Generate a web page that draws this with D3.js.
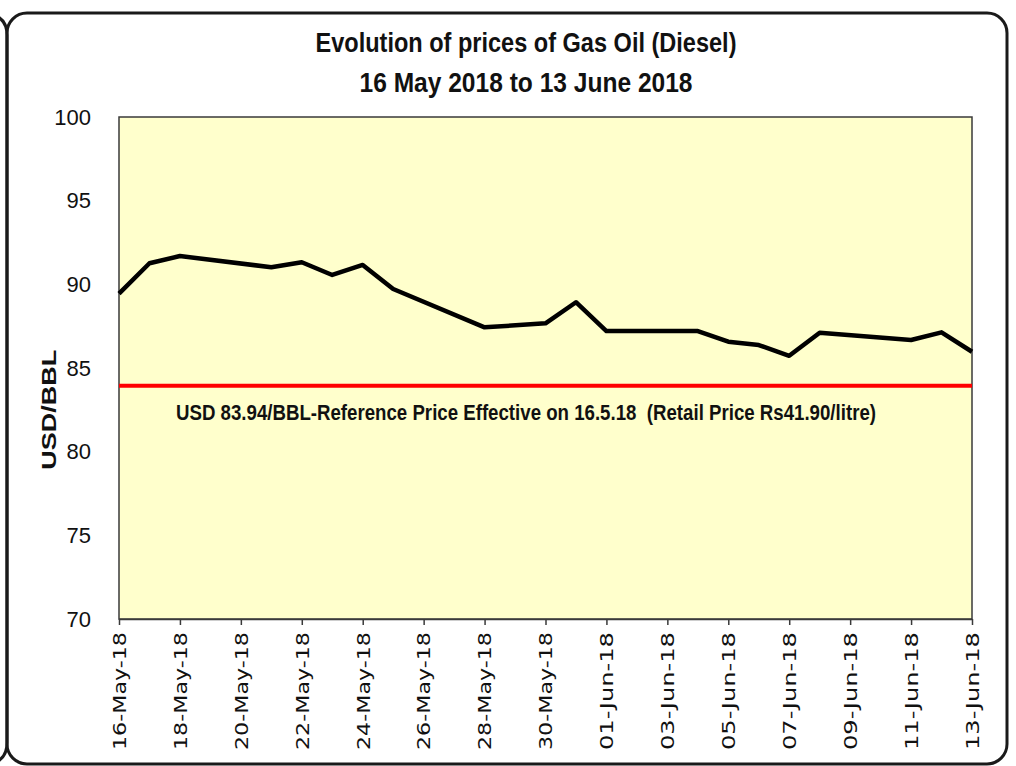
<!DOCTYPE html>
<html>
<head>
<meta charset="utf-8">
<script src="https://cdn.jsdelivr.net/npm/d3@7"></script>
<style>
  html, body { margin: 0; padding: 0; background: #fff; }
  svg { display: block; }
</style>
</head>
<body>
<svg id="chart"></svg>
<script>
// data (trading days only)
var dates = ['2018-05-16','2018-05-17','2018-05-18','2018-05-21','2018-05-22','2018-05-23',
             '2018-05-24','2018-05-25','2018-05-28','2018-05-30','2018-05-31','2018-06-01',
             '2018-06-04','2018-06-05','2018-06-06','2018-06-07','2018-06-08','2018-06-11',
             '2018-06-12','2018-06-13'];
var prices = [89.45, 91.26, 91.69, 91.02, 91.32, 90.56,
              91.16, 89.72, 87.43, 87.67, 88.93, 87.21,
              87.21, 86.57, 86.37, 85.73, 87.11, 86.67,
              87.13, 85.97];
var refPrice = 83.94;
var yTicks = [70, 75, 80, 85, 90, 95, 100];
var titleLines = ['Evolution of prices of Gas Oil (Diesel)', '16 May 2018 to 13 June 2018'];
var refLabel = 'USD 83.94/BBL-Reference Price Effective on 16.5.18  (Retail Price Rs41.90/litre)';

var W = 1016, H = 766;
var margin = {left: 119, right: 44, top: 117, bottom: 147};
var parse = d3.timeParse('%Y-%m-%d');
var data = dates.map(function(d, i){ return {date: parse(d), value: prices[i]}; });
var xStart = parse('2018-05-16'), xEnd = parse('2018-06-13');
var xTicks = d3.timeDay.range(xStart, d3.timeDay.offset(xEnd, 1), 2);

var svg = d3.select('#chart').attr('width', W).attr('height', H);

// frames: neighbour's right edge and this box
svg.append('path')
  .attr('d', 'M-20,13 Q7,13 7,35 L7,743 Q7,765 -20,765')
  .attr('fill', 'none').attr('stroke', '#1a1a1a').attr('stroke-width', 3);
svg.append('rect')
  .attr('x', 7).attr('y', 13).attr('width', 1000).attr('height', 751)
  .attr('rx', 20).attr('ry', 20)
  .attr('fill', 'none').attr('stroke', '#1a1a1a').attr('stroke-width', 3);

var x = d3.scaleTime()
  .domain([xStart, xEnd])
  .range([margin.left, W - margin.right]);
var y = d3.scaleLinear()
  .domain([70, 100])
  .range([H - margin.bottom, margin.top]);

// plot area
svg.append('rect')
  .attr('x', x.range()[0]).attr('y', y(100))
  .attr('width', x.range()[1] - x.range()[0]).attr('height', y(70) - y(100))
  .attr('fill', '#ffffcc').attr('stroke', '#3a3a3a').attr('stroke-width', 1.5);

// title
svg.selectAll('.title').data(titleLines).enter().append('text')
  .attr('class', 'title')
  .attr('x', 526).attr('y', function(d, i){ return 52 + i * 40; })
  .attr('text-anchor', 'middle')
  .attr('textLength', function(d, i){ return i === 0 ? 421 : 333; })
  .attr('lengthAdjust', 'spacingAndGlyphs')
  .style('font-family', '"Liberation Sans Narrow", "Liberation Sans", sans-serif')
  .style('font-weight', 'bold').style('font-size', '27px').style('fill', '#111')
  .text(function(d){ return d; });

// y axis
var yAxis = svg.append('g')
  .attr('transform', 'translate(' + margin.left + ',0)')
  .call(d3.axisLeft(y).tickValues(yTicks).tickSize(0).tickPadding(28));
yAxis.select('.domain').remove();
yAxis.selectAll('text')
  .style('font-family', '"Liberation Sans Narrow", "Liberation Sans", sans-serif')
  .style('font-size', '22px').style('fill', '#111');

svg.append('text')
  .attr('transform', 'translate(56,' + y(82.5) + ') rotate(-90)')
  .attr('text-anchor', 'middle')
  .attr('textLength', 120).attr('lengthAdjust', 'spacingAndGlyphs')
  .style('font-family', '"Liberation Sans", Arial, sans-serif')
  .style('font-weight', 'bold').style('font-size', '20px').style('fill', '#111')
  .text('USD/BBL');

// x axis
var xAxis = svg.append('g')
  .attr('transform', 'translate(0,' + y(70) + ')')
  .call(d3.axisBottom(x).tickValues(xTicks).tickFormat(d3.timeFormat('%d-%b-%y'))
        .tickSize(6).tickSizeOuter(0));
xAxis.select('.domain').attr('stroke', '#3a3a3a').attr('stroke-width', 1.5);
xAxis.selectAll('.tick line').attr('stroke', '#3a3a3a').attr('stroke-width', 1.5);
xAxis.selectAll('text')
  .attr('transform', 'rotate(-90)')
  .attr('x', -13).attr('y', 0).attr('dy', '0.35em')
  .attr('text-anchor', 'end')
  .attr('textLength', 118).attr('lengthAdjust', 'spacingAndGlyphs')
  .style('font-family', '"DejaVu Sans", Verdana, sans-serif')
  .style('font-size', '18px').style('fill', '#111');

// reference price line
svg.append('line')
  .attr('x1', x.range()[0]).attr('x2', x.range()[1])
  .attr('y1', y(refPrice)).attr('y2', y(refPrice))
  .attr('stroke', '#ff0000').attr('stroke-width', 4);

svg.append('text')
  .attr('x', 176).attr('y', 420)
  .attr('textLength', 700).attr('lengthAdjust', 'spacingAndGlyphs')
  .style('white-space', 'pre')
  .style('font-family', '"Liberation Sans Narrow", "Liberation Sans", sans-serif')
  .style('font-weight', 'bold').style('font-size', '22px').style('fill', '#111')
  .text(refLabel);

// price line
var line = d3.line()
  .x(function(d){ return x(d.date); })
  .y(function(d){ return y(d.value); });
svg.append('path')
  .datum(data)
  .attr('d', line)
  .attr('fill', 'none').attr('stroke', '#000').attr('stroke-width', 4.5)
  .attr('stroke-linejoin', 'round');
</script>
</body>
</html>
